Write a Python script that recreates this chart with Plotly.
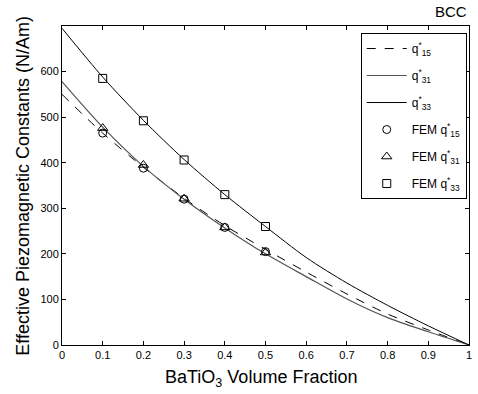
import plotly.graph_objects as go

vf_line = [0.0, 0.1, 0.2, 0.3, 0.4, 0.5, 0.6, 0.7, 0.8, 0.9, 1.0]
q15_line = [550, 465, 390, 322, 262, 210, 160, 112, 68, 33, 0]
q31_line = [578, 478, 392, 320, 257, 200, 150, 101, 60, 29, 0]
q33_line = [695, 588, 493, 407, 330, 260, 192, 136, 87, 42, 0]

vf_fem = [0.1, 0.2, 0.3, 0.4, 0.5]
q15_fem = [465, 388, 320, 258, 205]
q31_fem = [476, 395, 321, 258, 203]
q33_fem = [585, 492, 406, 330, 260]

fig = go.Figure()
fig.add_trace(go.Scatter(x=vf_line, y=q15_line, mode="lines", name="q<sup>*</sup><sub>15</sub>", legendgroup="a",
                         line=dict(color="black", width=1, dash="dash", shape="spline", smoothing=0.8)))
fig.add_trace(go.Scatter(x=vf_line, y=q31_line, mode="lines", name="q<sup>*</sup><sub>31</sub>", legendgroup="b",
                         line=dict(color="#555555", width=1.2, shape="spline", smoothing=0.8)))
fig.add_trace(go.Scatter(x=vf_line, y=q33_line, mode="lines", name="q<sup>*</sup><sub>33</sub>", legendgroup="c",
                         line=dict(color="black", width=1, shape="spline", smoothing=0.8)))
fig.add_trace(go.Scatter(x=vf_fem, y=q15_fem, mode="markers", name="FEM q<sup>*</sup><sub>15</sub>", legendgroup="d",
                         marker=dict(symbol="circle-open", size=8, color="black", line=dict(width=1))))
fig.add_trace(go.Scatter(x=vf_fem, y=q31_fem, mode="markers", name="FEM q<sup>*</sup><sub>31</sub>", legendgroup="e",
                         marker=dict(symbol="triangle-up-open", size=9, color="black", line=dict(width=1))))
fig.add_trace(go.Scatter(x=vf_fem, y=q33_fem, mode="markers", name="FEM q<sup>*</sup><sub>33</sub>", legendgroup="f",
                         marker=dict(symbol="square-open", size=8, color="black", line=dict(width=1))))

axis_common = dict(showgrid=False, zeroline=False, showline=True, linecolor="black", linewidth=1,
                   mirror="allticks", ticks="inside", ticklen=4, tickcolor="black",
                   tickfont=dict(family="Liberation Sans, Arial", size=11, color="black"))

fig.update_layout(
    width=478, height=394,
    margin=dict(l=62, r=6, t=26, b=49),
    paper_bgcolor="white", plot_bgcolor="white",
    font=dict(family="Liberation Sans, Arial", color="black"),
    xaxis=dict(range=[0, 1], dtick=0.1, **axis_common),
    yaxis=dict(range=[0, 700], tickvals=[0, 100, 200, 300, 400, 500, 600], **axis_common),
    legend=dict(x=0.734, y=0.978, xanchor="left", yanchor="top", bordercolor="black", borderwidth=1,
                bgcolor="white", font=dict(size=12), tracegroupgap=8, itemwidth=40),
    showlegend=True,
    annotations=[
        dict(text="BCC", x=1.0, y=1.044, xref="paper", yref="paper", xanchor="right",
             yanchor="middle", showarrow=False, font=dict(size=15)),
        dict(text="Effective Piezomagnetic Constants (N/Am)", x=-0.0976, y=0.5, xref="paper", yref="paper",
             xanchor="center", yanchor="middle", textangle=-90, showarrow=False, font=dict(size=18)),
        dict(text="BaTiO<sub>3</sub> Volume Fraction", x=0.49, y=-0.063, xref="paper", yref="paper",
             xanchor="center", yanchor="top", showarrow=False, font=dict(size=18)),
    ],
)

fig.write_html("out.html")
